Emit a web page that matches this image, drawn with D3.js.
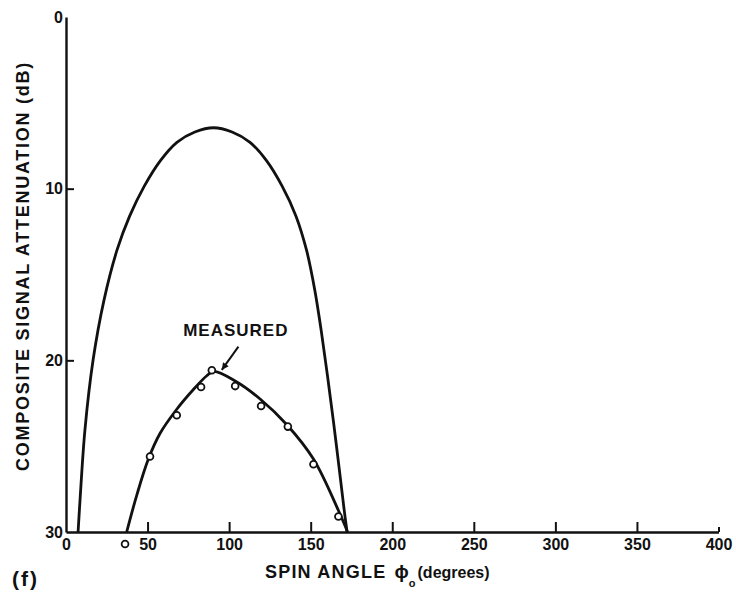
<!DOCTYPE html>
<html>
<head>
<meta charset="utf-8">
<script src="https://cdn.jsdelivr.net/npm/d3@7"></script>
<style>
  html, body { margin: 0; padding: 0; background: #fff; }
  svg { display: block; }
  text { font-family: "Liberation Sans", Arial, sans-serif; font-weight: bold; fill: #111; }
</style>
</head>
<body>
<script>
// Spin angle (degrees) vs composite signal attenuation (dB)
const angleTicks = [0, 50, 100, 150, 200, 250, 300, 350, 400];
const attenTicks = [0, 10, 20, 30];

// Upper curve: [spin angle, attenuation]
const upperCurve = [
  [7.4, 30], [8.6, 28.14], [11.6, 24.06], [16.6, 19.98], [23.3, 16.49],
  [31.3, 13.57], [39, 11.6], [48, 9.85], [58, 8.35], [68, 7.3], [79, 6.7],
  [90.4, 6.45], [101.8, 6.7], [112.8, 7.3], [122.8, 8.35], [132.5, 9.85],
  [141, 11.6], [147.5, 13.6], [152.5, 15.9], [156.5, 18.3], [160.3, 20.9],
  [164, 23.6], [167.6, 26.4], [170.5, 28.7], [172.3, 30]
];

// Lower curve drawn through the measurements
const measuredCurve = [
  [37.2, 30], [43.4, 27.85], [50.5, 25.75], [57.7, 24.25], [67.9, 22.85],
  [78.1, 21.7], [86.3, 20.9], [90.4, 20.65], [103.7, 21.2], [119, 22.25],
  [135.4, 23.75], [151.7, 25.75], [167, 28.75], [172.6, 30]
];

// Measured points
const measuredPoints = [
  [36.2, 30.7], [51.5, 25.6], [67.9, 23.2], [82.8, 21.55], [89.4, 20.58],
  [103.7, 21.5], [119.6, 22.66], [136, 23.86], [151.7, 26.05], [167, 29.1]
];

// Annotation: label anchor, arrow tail and tip, in data units
const noteLabel = { text: "MEASURED", angle: 104.1, atten: 18.58 };
const noteArrow = [[105.7, 19.2], [95.5, 20.56]];

const W = 736, H = 595;
const svg = d3.select("body").append("svg").attr("width", W).attr("height", H);

const x = d3.scaleLinear().domain([0, 400]).range([66, 718.5]);
const y = d3.scaleLinear().domain([0, 30]).range([17, 532]);

const ink = "#111";

// axes with inward ticks
const xAxis = d3.axisBottom(x).tickValues(angleTicks).tickSizeInner(-10).tickSizeOuter(0).tickPadding(7)
  .tickFormat(d3.format("d"));
const yAxis = d3.axisLeft(y).tickValues(attenTicks).tickSizeInner(-8).tickSizeOuter(0).tickPadding(3)
  .tickFormat(d3.format("d"));

const gx = svg.append("g").attr("transform", `translate(0,${y(30)})`).call(xAxis);
const gy = svg.append("g").attr("transform", `translate(${x(0)},0)`).call(yAxis);

[gx, gy].forEach(g => {
  g.select(".domain").attr("stroke", ink).attr("stroke-width", 2.4);
  g.selectAll(".tick line").attr("stroke", ink).attr("stroke-width", 2);
  g.selectAll(".tick text").attr("fill", ink).style("font-size", "16px")
    .style("font-family", "'Liberation Sans', Arial, sans-serif").style("font-weight", "bold");
});
gx.selectAll(".tick").filter(d => d === 400).select("line").attr("y2", -5);
gx.selectAll(".tick").filter(d => d === 0).select("line").remove();
gy.selectAll(".tick").filter(d => d === 0 || d === 30).select("line").remove();

// curves
const line = d3.line().x(d => x(d[0])).y(d => y(d[1])).curve(d3.curveCatmullRom.alpha(0.5));

svg.append("path").datum(upperCurve).attr("d", line)
  .attr("fill", "none").attr("stroke", ink).attr("stroke-width", 2.8);
svg.append("path").datum(measuredCurve).attr("d", line)
  .attr("fill", "none").attr("stroke", ink).attr("stroke-width", 2.8);

svg.append("g").selectAll("circle").data(measuredPoints).join("circle")
  .attr("cx", d => x(d[0])).attr("cy", d => y(d[1])).attr("r", 3.4)
  .attr("fill", "#fff").attr("stroke", ink).attr("stroke-width", 1.8);

// annotation
svg.append("defs").append("marker")
  .attr("id", "head").attr("viewBox", "0 0 10 10").attr("refX", 10).attr("refY", 5)
  .attr("markerWidth", 10).attr("markerHeight", 7).attr("markerUnits", "userSpaceOnUse")
  .attr("orient", "auto")
  .append("path").attr("d", "M0,0 L10,5 L0,10 Z").attr("fill", ink);

svg.append("line")
  .attr("x1", x(noteArrow[0][0])).attr("y1", y(noteArrow[0][1]))
  .attr("x2", x(noteArrow[1][0])).attr("y2", y(noteArrow[1][1]))
  .attr("stroke", ink).attr("stroke-width", 2).attr("marker-end", "url(#head)");

svg.append("text").attr("x", x(noteLabel.angle)).attr("y", y(noteLabel.atten))
  .attr("text-anchor", "middle").style("font-size", "17px").style("letter-spacing", "1px")
  .text(noteLabel.text);

// axis titles
svg.append("text")
  .attr("transform", "translate(29,266) rotate(-90)")
  .attr("text-anchor", "middle").style("font-size", "18px").style("letter-spacing", "1.75px")
  .text("COMPOSITE SIGNAL ATTENUATION (dB)");

const xt = svg.append("text").attr("x", 265).attr("y", 578).style("font-size", "18px");
xt.append("tspan").style("letter-spacing", "1.2px").text("SPIN ANGLE ");
xt.append("tspan").attr("dx", 2).style("font-size", "19px").text("ϕ");
xt.append("tspan").attr("dy", 9).attr("dx", 0).style("font-size", "11px").text("o");
xt.append("tspan").attr("dy", -9).attr("dx", 2).style("font-size", "16px").text("(degrees)");

svg.append("text").attr("x", 12).attr("y", 586).style("font-size", "21px").style("letter-spacing", "2px")
  .text("(f)");
</script>
</body>
</html>
